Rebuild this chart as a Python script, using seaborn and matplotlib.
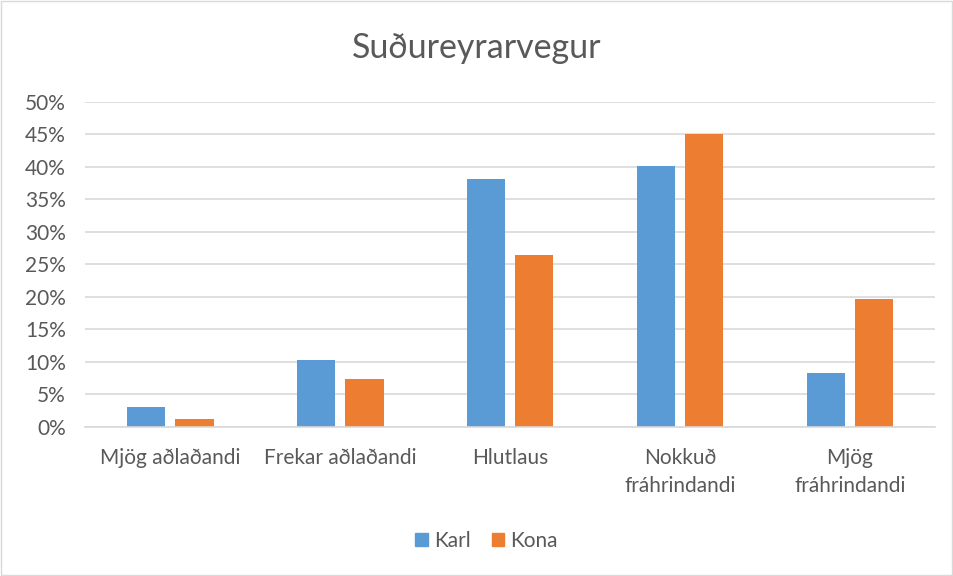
import pandas as pd
import matplotlib.pyplot as plt
import matplotlib.patches as mpatches
from matplotlib.ticker import FuncFormatter
import seaborn as sns

# ~~~~~~~~ DATA
categories = ["Mjög aðlaðandi", "Frekar aðlaðandi", "Hlutlaus",
              "Nokkuð\nfráhrindandi", "Mjög\nfráhrindandi"]
karl = [3.1, 10.3, 38.2, 40.2, 8.2]
kona = [1.2, 7.4, 26.5, 45.1, 19.7]

df = pd.DataFrame({
    "flokkur": categories * 2,
    "hlutfall": karl + kona,
    "kyn": ["Karl"] * len(karl) + ["Kona"] * len(kona),
})

sns.set_theme(style="white")
plt.rcParams['font.family'] = ['Lato', 'DejaVu Sans']

fig = plt.figure(figsize=(9.54, 5.76), dpi=100)
ax = fig.add_axes([85.3 / 954, 1 - 426.7 / 576, (935 - 85.3) / 954, (426.7 - 102) / 576])

sns.barplot(data=df, x="flokkur", y="hlutfall", hue="kyn",
            palette=["#5B9BD5", "#ED7D31"], width=0.57, gap=0.21,
            linewidth=0, saturation=1, ax=ax, legend=False)

ax.set_ylim(0, 50)
ax.set_yticks(range(0, 51, 5))
ax.yaxis.set_major_formatter(FuncFormatter(lambda v, p: f"{int(v)}%"))
ax.grid(axis='y', color='#d9d9d9', linewidth=1.2)
ax.set_axisbelow(True)
for s in ["top", "right", "left"]:
    ax.spines[s].set_visible(False)
ax.spines["bottom"].set_color('#d9d9d9')
ax.spines["bottom"].set_linewidth(1.2)
ax.tick_params(axis='both', length=0, labelsize=15, colors='#595959')
ax.tick_params(axis='x', pad=15)
ax.tick_params(axis='y', pad=14)
for lab in ax.get_xticklabels():
    lab.set_linespacing(1.55)
ax.set_xlabel("")
ax.set_ylabel("")

fig.text(0.5, 1 - 48 / 576, "Suðureyrarvegur", ha='center', va='center',
         fontsize=24.5, color='#595959')

handles = [mpatches.Patch(color="#5B9BD5", label="Karl"),
           mpatches.Patch(color="#ED7D31", label="Kona")]
fig.legend(handles=handles, loc='center', bbox_to_anchor=(0.51, 1 - 541 / 576),
           ncol=2, frameon=False, fontsize=15, labelcolor='#595959',
           handlelength=0.6, handleheight=0.6, handletextpad=0.3, columnspacing=1.0)

fig.patches.append(mpatches.Rectangle((0.001, 0.001), 0.997, 0.997, transform=fig.transFigure,
                                      fill=False, edgecolor='#d9d9d9', linewidth=1))

plt.savefig("out.png", dpi=100)
